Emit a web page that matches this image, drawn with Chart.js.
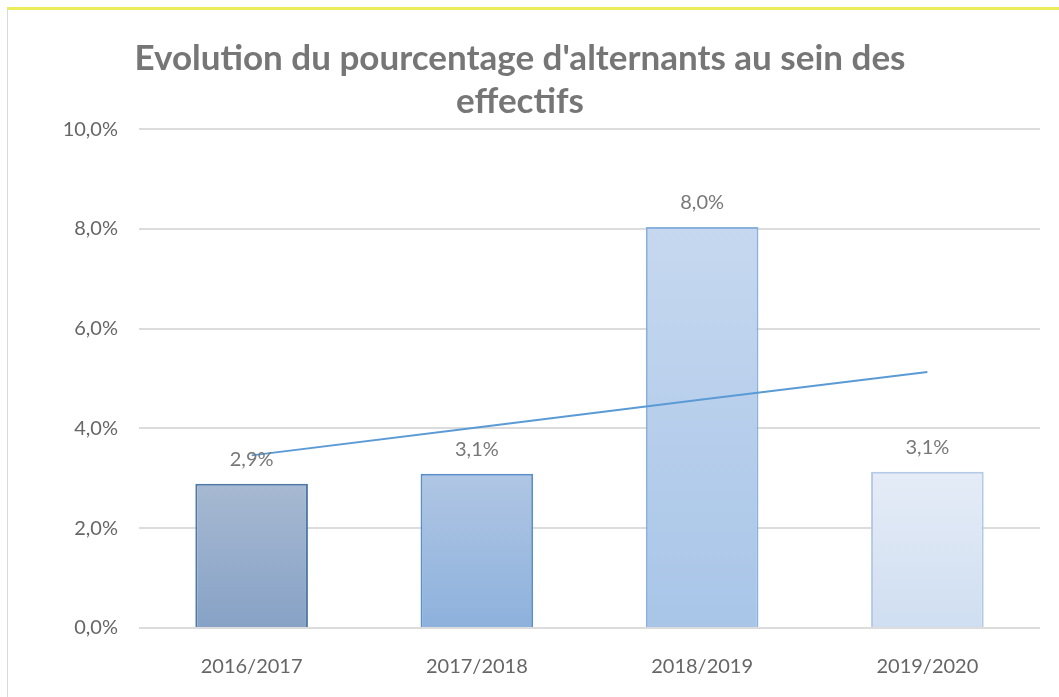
<!DOCTYPE html>
<html>
<head>
<meta charset="utf-8">
<script src="https://cdn.jsdelivr.net/npm/chart.js@4"></script>
<style>
  html, body { margin: 0; padding: 0; background: #fff; }
  #wrap { position: relative; width: 1059px; height: 697px; }
  #frame { position: absolute; left: 7px; top: 7px; right: 0; bottom: 0;
           border-top: 3px solid #ecec5c; border-left: 1px solid #d9d9d9; pointer-events: none; }
</style>
</head>
<body>
<div id="wrap">
  <canvas id="chart1" width="1059" height="697"></canvas>
  <div id="frame"></div>
</div>
<script>
const categories = ['2016/2017', '2017/2018', '2018/2019', '2019/2020'];
const shares = [2.89, 3.09, 8.04, 3.13];
const trend = [3.46, 4.02, 4.58, 5.13];
const yTicks = [0, 2, 4, 6, 8, 10];

// excel-ish gradient colours per bar: [top, bottom, border]
const barColors = [
    ['#a7b9d2', '#87a2c6', '#4f79a8'],
    ['#b0c6e4', '#8db1dc', '#5a8fc9'],
    ['#c6d8ef', '#a8c5e8', '#8ab0dc'],
    ['#e5ecf7', '#cfdef1', '#b3c9e6']
];

const fmt = v => v.toFixed(1).replace('.', ',') + '%';

function barGradient(c) {
    const chart = c.chart;
    const area = chart.chartArea;
    const cols = barColors[c.dataIndex];
    if (!area) return cols[1];
    const y = chart.scales.y;
    const top = y.getPixelForValue(shares[c.dataIndex]);
    const g = chart.ctx.createLinearGradient(0, top, 0, area.bottom);
    g.addColorStop(0, cols[0]);
    g.addColorStop(1, cols[1]);
    return g;
}

const barLabels = {
    id: 'barLabels',
    afterDatasetsDraw(chart) {
        const ctx = chart.ctx;
        const meta = chart.getDatasetMeta(1);
        ctx.save();
        ctx.font = '20px Lato';
        ctx.fillStyle = '#787878';
        ctx.textAlign = 'center';
        ctx.textBaseline = 'middle';
        meta.data.forEach((bar, i) => {
            ctx.fillText(fmt(shares[i]), bar.x, bar.y - 24);
        });
        ctx.restore();
    }
};

const ctx = document.getElementById('chart1').getContext('2d');
const chart1 = new Chart(ctx, {
    data: {
        labels: categories,
        datasets: [
            {
                type: 'line',
                data: trend,
                borderColor: '#5b9bd5',
                borderWidth: 2,
                pointRadius: 0,
                fill: false,
                order: 0
            },
            {
                type: 'bar',
                data: shares,
                backgroundColor: barGradient,
                borderColor: c => barColors[c.dataIndex][2],
                borderWidth: 2,
                barPercentage: 0.5,
                categoryPercentage: 1,
                order: 1
            }
        ]
    },
    options: {
        responsive: false,
        animation: false,
        layout: { padding: { left: 0, right: 19, top: 0, bottom: 0 } },
        scales: {
            x: {
                grid: { display: false },
                border: { display: false },
                ticks: { color: '#666', font: { family: 'Lato', size: 20 }, padding: 19 },
                afterFit: s => { s.height = 69; }
            },
            y: {
                min: 0,
                max: 10,
                afterBuildTicks: s => { s.ticks = yTicks.map(v => ({ value: v })); },
                grid: { color: '#dcdcdc', lineWidth: 2, drawTicks: false },
                border: { display: false },
                ticks: {
                    color: '#666',
                    font: { family: 'Lato', size: 20 },
                    padding: 21,
                    callback: v => fmt(v)
                },
                afterFit: s => { s.width = 139; }
            }
        },
        plugins: {
            legend: { display: false },
            tooltip: { enabled: false },
            title: {
                display: true,
                text: ["Evolution du pourcentage d'alternants au sein des", 'effectifs'],
                color: '#767676',
                font: { family: 'Lato', size: 35, weight: 'bold', lineHeight: 1.23 },
                padding: { top: 37, bottom: 6 }
            }
        }
    },
    plugins: [barLabels]
});
</script>
</body>
</html>
